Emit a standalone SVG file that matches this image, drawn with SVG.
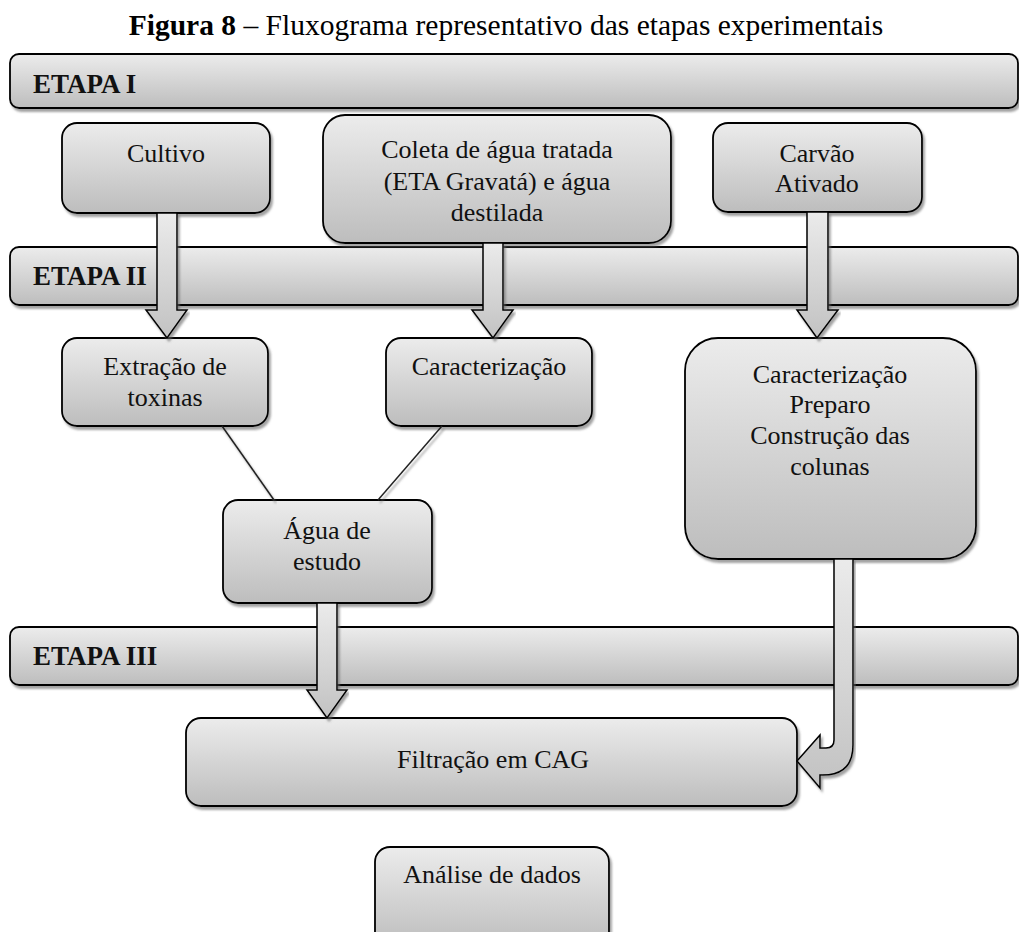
<svg xmlns="http://www.w3.org/2000/svg" width="1019" height="932" viewBox="0 0 1019 932">
  <style>
    .box { fill: url(#boxFill); stroke: #000; stroke-width: 1.8; filter: url(#shadow); }
    .band { fill: url(#boxFill); stroke: #000; stroke-width: 1.8; filter: url(#shadow); }
    .arrow { fill: url(#arrowFill); stroke: #000; stroke-width: 1.5; stroke-linejoin: miter; filter: url(#shadow); }
    .link { stroke: #222; stroke-width: 1.5; fill: none; filter: url(#shadow); }
    .t { font-family: "Liberation Serif", "Times New Roman", serif; font-size: 26px; fill: #111; text-anchor: middle; }
    .lbl { font-family: "Liberation Serif", "Times New Roman", serif; font-size: 27px; font-weight: bold; fill: #111; }
    .title { font-family: "Liberation Serif", "Times New Roman", serif; font-size: 29.5px; fill: #000; text-anchor: middle; }
  </style>
  <defs>
    <linearGradient id="boxFill" x1="0" y1="0" x2="0" y2="1">
      <stop offset="0" stop-color="#ececec"/>
      <stop offset="1" stop-color="#bdbdbd"/>
    </linearGradient>
    <linearGradient id="arrowFill" x1="0" y1="0" x2="0" y2="1">
      <stop offset="0" stop-color="#ebebeb"/>
      <stop offset="1" stop-color="#c2c2c2"/>
    </linearGradient>
    <filter id="shadow" x="-5%" y="-5%" width="110%" height="120%">
      <feDropShadow dx="2" dy="3" stdDeviation="1.2" flood-color="#666" flood-opacity="0.6"/>
    </filter>
  </defs>

  <!-- caption -->
  <text class="title" x="506" y="35"><tspan font-weight="bold">Figura 8</tspan> – Fluxograma representativo das etapas experimentais</text>

  <!-- stage bands -->
  <g id="etapa-1">
    <rect class="band" x="10" y="54" width="1008" height="54" rx="9"/>
    <text class="lbl" x="33" y="93">ETAPA I</text>
  </g>
  <g id="etapa-2">
    <rect class="band" x="10" y="247" width="1008" height="58" rx="9"/>
    <text class="lbl" x="33" y="285">ETAPA II</text>
  </g>
  <g id="etapa-3">
    <rect class="band" x="10" y="627" width="1008" height="58" rx="9"/>
    <text class="lbl" x="33" y="665">ETAPA III</text>
  </g>

  <!-- stage I -->
  <g id="cultivo">
    <rect class="box" x="62" y="123" width="208" height="90" rx="15"/>
    <text class="t" x="166" y="162">Cultivo</text>
  </g>
  <g id="coleta">
    <rect class="box" x="323" y="115" width="348" height="128" rx="22"/>
    <text class="t" x="497" y="158">Coleta de água tratada</text>
    <text class="t" x="497" y="190">(ETA Gravatá) e água</text>
    <text class="t" x="497" y="221">destilada</text>
  </g>
  <g id="carvao">
    <rect class="box" x="713" y="123" width="209" height="89" rx="15"/>
    <text class="t" x="817" y="162">Carvão</text>
    <text class="t" x="817" y="192">Ativado</text>
  </g>

  <!-- stage II -->
  <g id="extracao">
    <rect class="box" x="62" y="338" width="206" height="88" rx="15"/>
    <text class="t" x="165" y="375">Extração de</text>
    <text class="t" x="165" y="406">toxinas</text>
  </g>
  <g id="caracterizacao">
    <rect class="box" x="386" y="338" width="206" height="88" rx="15"/>
    <text class="t" x="489" y="375">Caracterização</text>
  </g>
  <g id="preparo-colunas">
    <rect class="box" x="685" y="338" width="291" height="221" rx="33"/>
    <text class="t" x="830" y="383">Caracterização</text>
    <text class="t" x="830" y="413">Preparo</text>
    <text class="t" x="830" y="444">Construção das</text>
    <text class="t" x="830" y="475">colunas</text>
  </g>
  <g id="agua-estudo">
    <rect class="box" x="223" y="500" width="209" height="103" rx="15"/>
    <text class="t" x="327" y="539">Água de</text>
    <text class="t" x="327" y="570">estudo</text>
  </g>

  <!-- stage III -->
  <g id="filtracao">
    <rect class="box" x="186" y="718" width="611" height="88" rx="15"/>
    <text class="t" x="493" y="768">Filtração em CAG</text>
  </g>
  <g id="analise">
    <rect class="box" x="375" y="847" width="234" height="100" rx="15"/>
    <text class="t" x="492" y="883">Análise de dados</text>
  </g>

  <!-- connectors -->
  <g id="connectors">
    <line class="link" x1="222" y1="426" x2="274" y2="500"/>
    <line class="link" x1="442" y1="426" x2="378" y2="500"/>
    <path class="arrow" d="M157 213 L177 213 L177 310 L187 310 L167 338 L146 310 L157 310 Z"/>
    <path class="arrow" d="M483 243 L503 243 L503 310 L513 310 L493 338 L472 310 L483 310 Z"/>
    <path class="arrow" d="M807 212 L828 212 L828 310 L838 310 L817 338 L797 310 L807 310 Z"/>
    <path class="arrow" d="M317 603 L337 603 L337 690 L347 690 L327 718 L307 690 L317 690 Z"/>
    <path class="arrow" d="M834 559 L853 559 L853 745 Q853 775 823 775 L820 775 L820 788 L797 761 L820 735 L820 748 L826 748 Q834 748 834 740 Z"/>
  </g>
</svg>
